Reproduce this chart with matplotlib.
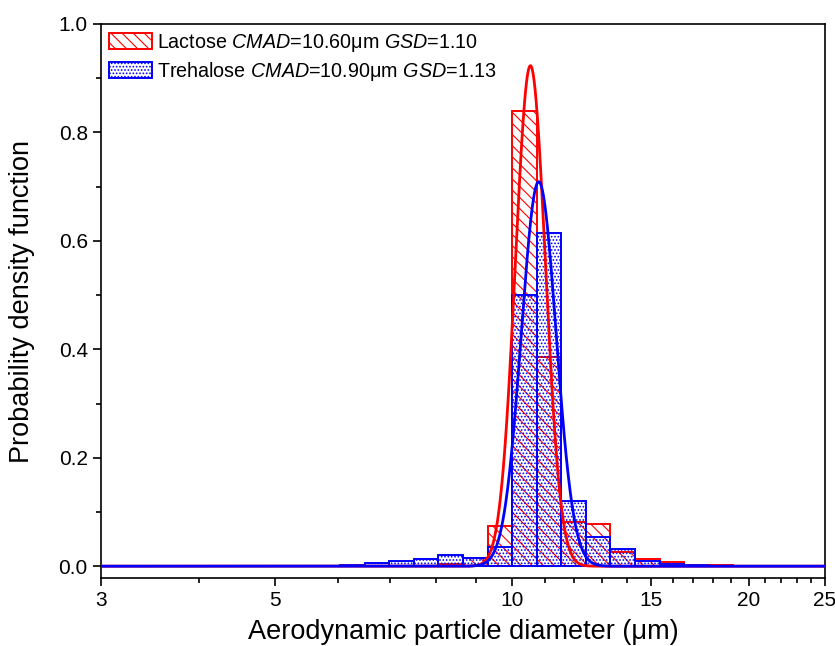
import numpy as np
import matplotlib
matplotlib.use('Agg')
import matplotlib.pyplot as plt
from matplotlib.ticker import FixedLocator, NullFormatter, MultipleLocator

plt.rcParams['font.family'] = ['Liberation Sans', 'DejaVu Sans']
plt.rcParams['mathtext.fontset'] = 'custom'
plt.rcParams['mathtext.rm'] = 'Liberation Sans'
plt.rcParams['mathtext.it'] = 'Liberation Sans:italic'
plt.rcParams['hatch.linewidth'] = 0.8

# APS channel lower / upper bounds (um)
bin_lo = [6.041, 6.494, 6.980, 7.499, 8.058, 8.660, 9.306, 10.000,
          10.746, 11.548, 12.409, 13.335, 14.330, 15.399, 16.548, 17.783]
bin_hi = [6.494, 6.980, 7.499, 8.058, 8.660, 9.306, 10.000, 10.746,
          11.548, 12.409, 13.335, 14.330, 15.399, 16.548, 17.783, 19.110]

lactose = [0.0, 0.0, 0.0, 0.0, 0.004, 0.016, 0.075, 0.84,
           0.385, 0.082, 0.077, 0.027, 0.013, 0.007, 0.002, 0.003]
trehalose = [0.002, 0.006, 0.010, 0.014, 0.021, 0.015, 0.035, 0.50,
             0.614, 0.12, 0.054, 0.031, 0.010, 0.004, 0.002, 0.001]

# fitted log-normal curves (peak height, centre, sigma in log10)
lac_fit = (0.923, 10.55, 0.0191)
tre_fit = (0.709, 10.81, 0.0221)

lac_label = r'Lactose $\it{CMAD}$=10.60μm $\it{GSD}$=1.10'
tre_label = r'Trehalose $\it{CMAD}$=10.90μm $\it{GSD}$=1.13'


def fit_curve(x, p):
    peak, c, s = p
    return peak * np.exp(-(np.log10(x) - np.log10(c)) ** 2 / (2 * s ** 2))


fig = plt.figure(figsize=(8.35, 6.46), dpi=100)
ax = fig.add_axes([0.121, 0.105, 0.867, 0.858])
ax.set_xscale('log')

lo = np.array(bin_lo)
hi = np.array(bin_hi)
ax.bar(lo, lactose, width=hi - lo, align='edge', facecolor='none',
       edgecolor='red', hatch='\\\\\\', linewidth=1.4, label=lac_label, zorder=2)
ax.bar(lo, trehalose, width=hi - lo, align='edge', facecolor='none',
       edgecolor='blue', hatch='.....', linewidth=1.4, label=tre_label, zorder=3)

ax.axhline(0, color='black', lw=1.2, zorder=1)

xs = np.logspace(np.log10(3), np.log10(25), 1500)
ax.plot(xs, fit_curve(xs, lac_fit), color='red', lw=2.0, zorder=4)
ax.plot(xs, fit_curve(xs, tre_fit), color='blue', lw=2.0, zorder=5)

ax.set_xlim(3, 25)
ax.set_ylim(-0.0221, 1.0)

ax.xaxis.set_major_locator(FixedLocator([3, 5, 10, 15, 20, 25]))
ax.xaxis.set_major_formatter(matplotlib.ticker.FixedFormatter(['3', '5', '10', '15', '20', '25']))
minors = [4, 6, 7, 8, 9, 11, 12, 13, 14, 16, 17, 18, 19, 21, 22, 23, 24]
ax.xaxis.set_minor_locator(FixedLocator(minors))
ax.xaxis.set_minor_formatter(NullFormatter())
ax.yaxis.set_major_locator(MultipleLocator(0.2))
ax.yaxis.set_minor_locator(MultipleLocator(0.1))
ax.yaxis.set_major_formatter(matplotlib.ticker.FormatStrFormatter('%.1f'))

ax.tick_params(which='major', direction='out', length=6, width=1.2, labelsize=15)
ax.tick_params(which='minor', direction='out', length=3.5, width=1.2)
for sp in ax.spines.values():
    sp.set_linewidth(1.2)

ax.set_xlabel('Aerodynamic particle diameter (μm)', fontsize=19.5, labelpad=6)
ax.set_ylabel('Probability density function', fontsize=19.5, labelpad=17)

ax.legend(loc='upper left', frameon=False, fontsize=14.2, handlelength=2.2,
          handleheight=0.85, handletextpad=0.25, labelspacing=0.3,
          borderaxespad=0.15, borderpad=0.25)

fig.savefig('out.png', dpi=100)
